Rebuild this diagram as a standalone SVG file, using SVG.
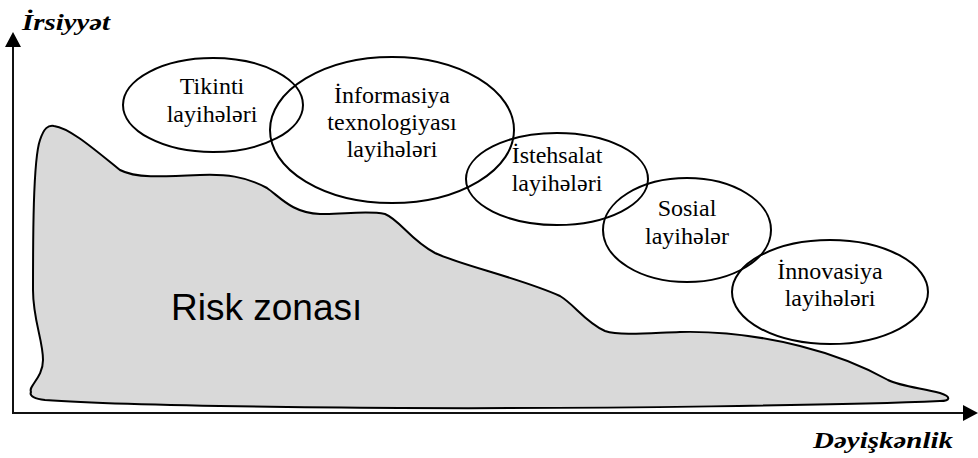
<svg xmlns="http://www.w3.org/2000/svg" width="978" height="458" viewBox="0 0 978 458">
  <style>
    .axis { stroke: #111; stroke-width: 2; fill: none; }
    .head { fill: #000; }
    .zone { fill: #d9d9d9; stroke: #000; stroke-width: 2; }
    .oval { fill: none; stroke: #000; stroke-width: 2; }
    .lbl { font-family: "Liberation Serif", "Times New Roman", serif; font-size: 24px; fill: #000; text-anchor: middle; }
    .ax { font-family: "Liberation Serif", "Times New Roman", serif; font-size: 28px; font-weight: bold; font-style: italic; fill: #000; }
    .zt { font-family: "Liberation Sans", Arial, sans-serif; font-size: 37px; fill: #000; }
  </style>
  <rect width="978" height="458" fill="#fff"/>

  <!-- risk zone area -->
  <g id="risk-zone">
    <path class="zone" d="M 31 392
      C 28 386, 43 378, 43 360
      C 43 340, 33 320, 33 290
      C 33 240, 33 160, 40 140
      C 44 128, 48 125, 54 126
      C 70 128, 95 150, 120 170
      C 135 178, 160 177, 200 175
      C 225 174, 245 176, 267 188
      C 280 197, 292 213, 320 214
      C 340 215, 365 210, 385 214
      C 400 220, 410 240, 435 253
      C 460 265, 520 278, 560 296
      C 575 305, 585 322, 605 331
      C 620 336, 650 333, 680 332
      C 720 331, 760 336, 800 346
      C 840 356, 870 370, 888 380
      C 900 386, 920 388, 940 393
      C 952 397, 950 401, 940 401
      C 850 405, 600 409, 400 408
      C 250 407, 100 404, 45 400
      C 35 399, 29 396, 31 392 Z"/>
    <text class="zt" x="171" y="320">Risk zonası</text>
  </g>

  <!-- axes -->
  <g id="axes">
    <line class="axis" x1="13" y1="414" x2="13" y2="46"/>
    <polygon class="head" points="13,32 5,47 21,47"/>
    <line class="axis" x1="12" y1="413" x2="964" y2="413"/>
    <polygon class="head" points="978,413 963,405 963,421"/>
    <text class="ax" transform="translate(22,30) scale(1,0.85)" textLength="88" lengthAdjust="spacingAndGlyphs">İrsiyyət</text>
    <text class="ax" transform="translate(813,448) scale(1,0.85)" textLength="140" lengthAdjust="spacingAndGlyphs">Dəyişkənlik</text>
  </g>

  <!-- project ellipses -->
  <g id="tikinti">
    <ellipse class="oval" cx="213" cy="105" rx="90" ry="47"/>
    <text class="lbl" x="212" y="94">Tikinti</text>
    <text class="lbl" x="212" y="122">layihələri</text>
  </g>
  <g id="informasiya">
    <ellipse class="oval" cx="392" cy="130" rx="122" ry="73"/>
    <text class="lbl" x="392" y="103">İnformasiya</text>
    <text class="lbl" x="392" y="130">texnologiyası</text>
    <text class="lbl" x="392" y="157">layihələri</text>
  </g>
  <g id="istehsalat">
    <ellipse class="oval" cx="557" cy="179" rx="91" ry="46"/>
    <text class="lbl" x="557" y="163">İstehsalat</text>
    <text class="lbl" x="557" y="191">layihələri</text>
  </g>
  <g id="sosial">
    <ellipse class="oval" cx="687" cy="230" rx="84" ry="52"/>
    <text class="lbl" x="687" y="216">Sosial</text>
    <text class="lbl" x="687" y="244">layihələr</text>
  </g>
  <g id="innovasiya">
    <ellipse class="oval" cx="830" cy="292" rx="98" ry="52"/>
    <text class="lbl" x="830" y="279">İnnovasiya</text>
    <text class="lbl" x="830" y="306">layihələri</text>
  </g>
</svg>
